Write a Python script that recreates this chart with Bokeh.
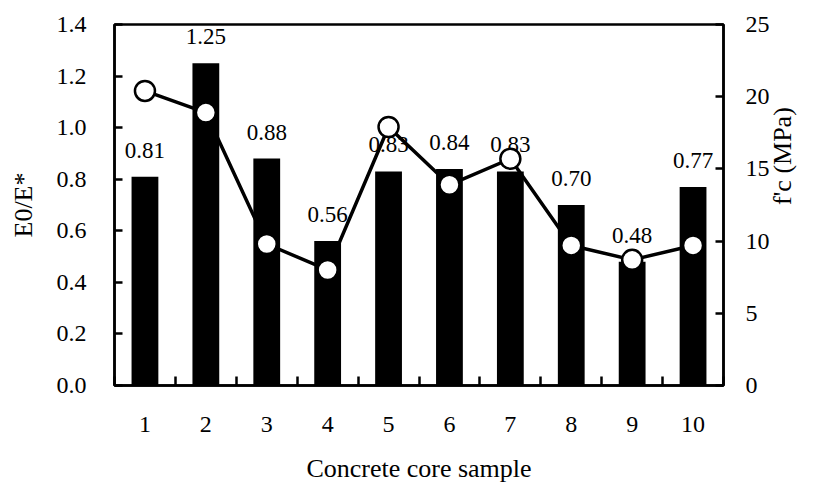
import math
from bokeh.plotting import figure
from bokeh.models import Range1d, LinearAxis, FixedTicker, ColumnDataSource
from bokeh.core.properties import value
from bokeh.embed import file_html
from bokeh.resources import INLINE

samples = [1, 2, 3, 4, 5, 6, 7, 8, 9, 10]
e_ratio = [0.81, 1.25, 0.88, 0.56, 0.83, 0.84, 0.83, 0.70, 0.48, 0.77]
fc_mpa = [20.4, 18.9, 9.8, 8.0, 17.9, 13.9, 15.7, 9.7, 8.7, 9.7]
left_ticks = [0.0, 0.2, 0.4, 0.6, 0.8, 1.0, 1.2, 1.4]
right_ticks = [0, 5, 10, 15, 20, 25]

FONT = "Liberation Serif"

src = ColumnDataSource(dict(
    x=samples, e=e_ratio, fc=fc_mpa,
    lab=[f"{v:.2f}" for v in e_ratio],
))

p = figure(width=814, height=485, output_backend="svg", toolbar_location=None,
           x_range=Range1d(samples[0] - 0.5, samples[-1] + 0.5),
           y_range=Range1d(left_ticks[0], left_ticks[-1]),
           min_border_left=114, min_border_right=88, min_border_top=24, min_border_bottom=100)
p.extra_y_ranges = {"fc": Range1d(right_ticks[0], right_ticks[-1])}
p.xgrid.visible = False
p.ygrid.visible = False
p.outline_line_color = "black"
p.outline_line_width = 2.5
p.background_fill_color = "white"
p.border_fill_color = "white"

# bars
p.vbar(x="x", top="e", width=0.44, bottom=0, source=src, fill_color="black", line_color=None)

# data labels
p.text(x="x", y="e", text="lab", source=src, text_align="center", text_baseline="bottom",
       y_offset=-19, text_font=value(FONT), text_font_size="23px", text_color="black")

# line + markers
p.line(x="x", y="fc", source=src, y_range_name="fc", line_color="black", line_width=3.5)
p.scatter(x="x", y="fc", source=src, y_range_name="fc", marker="circle", size=20,
          fill_color="white", line_color="black", line_width=2.5)

# x axis
xa = p.xaxis[0]
xa.ticker = FixedTicker(ticks=samples, minor_ticks=[s - 0.5 for s in samples] + [samples[-1] + 0.5])
xa.major_label_overrides = {s: str(s) for s in samples}
xa.major_tick_line_color = None
xa.major_tick_in = 0
xa.major_tick_out = 0
xa.minor_tick_in = 9
xa.minor_tick_out = 0
xa.minor_tick_line_width = 2.5
xa.minor_tick_line_color = "black"
xa.axis_line_width = 2.5
xa.axis_line_color = "black"
xa.major_label_standoff = 31
xa.axis_label = "Concrete core sample"
xa.axis_label_standoff = 19

# left axis
ya = p.yaxis[0]
ya.ticker = FixedTicker(ticks=left_ticks)
ya.major_label_overrides = {t: f"{t:.1f}" for t in left_ticks}
ya.major_tick_in = 8
ya.major_tick_out = 0
ya.major_tick_line_width = 2.5
ya.minor_tick_line_color = None
ya.axis_line_width = 2.5
ya.major_label_standoff = 28
ya.axis_label = "E0/E*"
ya.axis_label_standoff = 16

# right axis
ra = LinearAxis(y_range_name="fc")
ra.ticker = FixedTicker(ticks=right_ticks)
ra.major_tick_in = 8
ra.major_tick_out = 0
ra.major_tick_line_width = 2.5
ra.minor_tick_line_color = None
ra.axis_line_width = 2.5
ra.major_label_standoff = 22
ra.axis_label = "f'c (MPa)"
ra.axis_label_standoff = 10
try:
    ra.axis_label_orientation = math.pi / 2
except Exception:
    pass
p.add_layout(ra, "right")

for ax in (xa, ya, ra):
    ax.major_label_text_font = FONT
    ax.major_label_text_font_size = "24px"
    ax.major_label_text_color = "black"
    ax.axis_label_text_font = FONT
    ax.axis_label_text_font_size = "26px"
    ax.axis_label_text_font_style = "normal"
    ax.axis_label_text_color = "black"

open("out.html", "w").write(file_html(p, INLINE))
